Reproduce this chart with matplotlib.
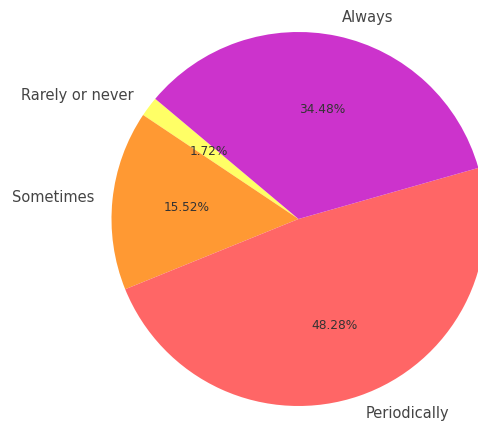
import matplotlib
matplotlib.use("Agg")
import matplotlib.pyplot as plt

labels = ["Rarely or never", "Sometimes", "Periodically", "Always"]
counts = [1, 9, 28, 20]
colors = ["#FFFF66", "#FF9933", "#FF6666", "#CC33CC"]

W, H, DPI = 478, 422, 100
fig = plt.figure(figsize=(W / DPI, H / DPI), dpi=DPI)
ax = fig.add_axes([0, 0, 1, 1])
wedges, texts, autotexts = ax.pie(
    counts, labels=labels, colors=colors, autopct="%1.2f%%",
    startangle=140, labeldistance=1.1, pctdistance=0.6,
    textprops={"fontsize": 10.5, "color": "#444444"},
)
for t in autotexts:
    t.set_fontsize(8.7)
    t.set_color("#333333")

cx, cy, R = 298.5, 422 - 219, 187
size = 2.5 * R
ax.set_position([(cx - size / 2) / W, (cy - size / 2) / H, size / W, size / H])
ax.set_xlim(-1.25, 1.25)
ax.set_ylim(-1.25, 1.25)
ax.set_aspect("equal")
fig.savefig("out.png", dpi=DPI)
